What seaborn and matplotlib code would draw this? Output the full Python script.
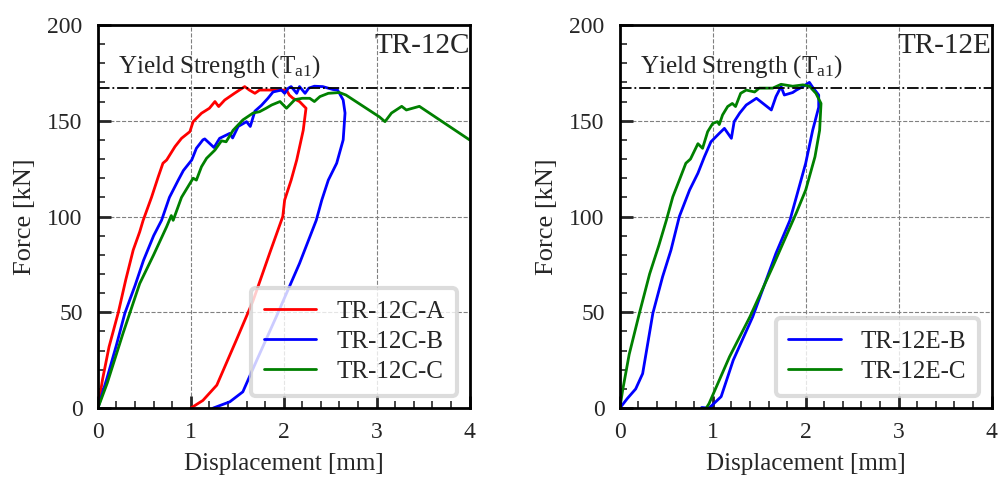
import numpy as np
import pandas as pd
import matplotlib
matplotlib.use('Agg')
import matplotlib.pyplot as plt
import seaborn as sns
from matplotlib.ticker import MultipleLocator

# ---- data ----
a_x = [0, 0.05, 0.12, 0.22, 0.30, 0.38, 0.45, 0.487, 0.577, 0.65, 0.70, 0.74, 0.83, 0.90, 0.99,
       1.025, 1.115, 1.20, 1.26, 1.29, 1.30, 1.365, 1.47, 1.58, 1.63, 1.69, 1.74, 1.885, 2.03, 2.06,
       2.10, 2.17, 2.24, 2.21, 2.14, 2.08, 2.01, 1.99, 1.85, 1.67, 1.49, 1.28, 1.13, 1.0]
a_y = [0, 15, 32, 50, 67, 82.5, 92, 98, 110, 120.8, 127.8, 129.5, 136.5, 140.8, 144.3,
       149.5, 153.9, 156.5, 160, 158, 157.4, 160.8, 164.3, 167.8, 166, 164.3, 166, 166, 166, 163.4,
       161.7, 160, 156.5, 145, 129.5, 119, 108.6, 100, 81, 56, 35.5, 12, 4, 0]

b_x = [0, 0.1, 0.2, 0.29, 0.4, 0.49, 0.6, 0.685, 0.77, 0.865, 0.92, 1.01, 1.06, 1.13, 1.15, 1.25,
       1.31, 1.42, 1.45, 1.51, 1.60, 1.64, 1.69, 1.76, 1.83, 1.885, 1.975, 2.01, 2.05, 2.08, 2.14,
       2.17, 2.23, 2.27, 2.33, 2.42, 2.53, 2.58, 2.64, 2.66, 2.64, 2.57, 2.48, 2.41, 2.35, 2.17,
       1.92, 1.71, 1.56, 1.42, 1.24]
b_y = [0, 16, 33, 49.5, 64, 77, 90, 98, 110, 119, 124, 129.5, 135.6, 140, 140.5, 136,
       140.8, 143.4, 141, 147, 149.5, 147, 155, 158, 161.7, 165, 166, 164.3, 167, 167.8, 164.3,
       167.8, 164.3, 167, 168, 167.8, 166.3, 166, 160.8, 154, 140, 127.8, 119, 108.6, 98, 75.5,
       47.7, 25, 8.5, 3.3, 0]

c_x = [0, 0.1, 0.27, 0.45, 0.6, 0.74, 0.79, 0.81, 0.90, 0.97, 1.025, 1.06, 1.115, 1.17, 1.26,
       1.33, 1.38, 1.455, 1.56, 1.67, 1.74, 1.81, 1.87, 1.96, 2.03, 2.12, 2.20, 2.28, 2.33, 2.39,
       2.48, 2.60, 2.67, 3.03, 3.09, 3.16, 3.27, 3.32, 3.46, 4.0]
c_y = [0, 13, 39, 65, 80, 94.7, 100.5, 98, 110, 115.6, 120, 119, 126, 130.4, 134.7,
       139.5, 139, 145, 150.4, 154, 154.7, 156.5, 158.2, 160, 156.5, 161, 161.7, 161.7, 160, 162.6,
       164.3, 164.7, 163.4, 152, 149.5, 154, 157.5, 155.6, 157.5, 140]

eb_x = [0, 0.08, 0.17, 0.245, 0.355, 0.46, 0.55, 0.64, 0.75, 0.84, 0.91, 0.98, 1.07, 1.125, 1.20,
        1.23, 1.29, 1.36, 1.47, 1.63, 1.68, 1.735, 1.77, 1.86, 1.90, 1.97, 2.04, 2.07, 2.14, 2.14,
        2.075, 2.0, 1.91, 1.83, 1.68, 1.43, 1.22, 1.09, 0.96, 0.88]
eb_y = [0, 5, 10, 18, 49.5, 68.6, 82.5, 100, 113.8, 122.6, 131.2, 139, 143.4, 146, 140.8,
        149.5, 154, 158.2, 161.7, 155.6, 162.6, 167.8, 163.4, 164.7, 166, 167.8, 170, 167.8, 163.4, 157,
        145, 127.8, 112, 98, 80.8, 47.7, 25, 6, 0, 0.3]

ec_x = [0, 0.03, 0.1, 0.21, 0.32, 0.42, 0.50, 0.57, 0.64, 0.71, 0.76, 0.84, 0.89, 0.945, 1.0,
        1.05, 1.07, 1.105, 1.16, 1.21, 1.245, 1.30, 1.36, 1.45, 1.50, 1.645, 1.735, 1.86, 1.97, 2.04,
        2.11, 2.165, 2.15, 2.10, 2.0, 1.90, 1.645, 1.40, 1.18, 0.96, 0.93]
ec_y = [0, 9.4, 28, 49.5, 70, 85, 98, 110.3, 119, 127.8, 130, 138, 135.6, 144.3, 148.6,
        149.5, 148, 153, 157.4, 159, 157.4, 164.3, 166, 165, 167, 167, 169, 168, 168.7, 168,
        164.3, 159, 145, 131.2, 113.8, 102, 73.8, 47.7, 26.8, 2.4, 0]

yield_strength = 167


def make_df(curves):
    rows = []
    for name, xs, ys in curves:
        for i, (x, y) in enumerate(zip(xs, ys)):
            rows.append({'name': name, 'step': i, 'disp': x, 'force': y})
    return pd.DataFrame(rows)


df_c = make_df([('TR-12C-A', a_x, a_y), ('TR-12C-B', b_x, b_y), ('TR-12C-C', c_x, c_y)])
df_e = make_df([('TR-12E-B', eb_x, eb_y), ('TR-12E-C', ec_x, ec_y)])

sns.set_style('white')
plt.rcParams['font.family'] = ['Liberation Serif', 'DejaVu Serif']
plt.rcParams['mathtext.fontset'] = 'custom'
plt.rcParams['mathtext.rm'] = 'Liberation Serif'

fig = plt.figure(figsize=(9.99, 4.79), dpi=100)
ax1 = fig.add_axes([0.098, 0.148, 0.372, 0.800])
ax2 = fig.add_axes([0.6205, 0.148, 0.372, 0.800])

pal_c = {'TR-12C-A': 'red', 'TR-12C-B': 'blue', 'TR-12C-C': 'green'}
pal_e = {'TR-12E-B': 'blue', 'TR-12E-C': 'green'}

sns.lineplot(data=df_c, x='disp', y='force', hue='name', palette=pal_c, sort=False,
             estimator=None, units='name', linewidth=2, ax=ax1)
sns.lineplot(data=df_e, x='disp', y='force', hue='name', palette=pal_e, sort=False,
             estimator=None, units='name', linewidth=2, ax=ax2)

for ax, tag in [(ax1, 'TR-12C'), (ax2, 'TR-12E')]:
    ax.set_xlim(0, 4)
    ax.set_ylim(0, 200)
    ax.axhline(yield_strength, color='black', ls='-.', lw=1.3)
    ax.text(0.22, 178, r'Yield Strength ($\mathrm{T_{a1}}$)', fontsize=18, va='center')
    ax.text(4.0, 189, tag, fontsize=21, ha='right', va='center', clip_on=True)
    ax.xaxis.set_major_locator(MultipleLocator(1))
    ax.xaxis.set_minor_locator(MultipleLocator(0.2))
    ax.yaxis.set_major_locator(MultipleLocator(50))
    ax.yaxis.set_minor_locator(MultipleLocator(10))
    ax.tick_params(which='major', direction='in', length=9, width=2, labelsize=17,
                   bottom=True, left=True, top=False, right=False)
    ax.tick_params(which='minor', direction='in', length=5, width=1.2,
                   bottom=True, left=True, top=False, right=False)
    ax.tick_params(axis='x', which='major', pad=10)
    ax.tick_params(axis='y', which='major', pad=11)
    ax.grid(True, which='major', ls='--', color='gray', lw=0.8)
    for s in ax.spines.values():
        s.set_linewidth(2)
        s.set_color('black')
    ax.set_xlabel('Displacement [mm]', fontsize=18, labelpad=7)
    ax.set_ylabel('Force [kN]', fontsize=19, labelpad=8)
    leg = ax.legend(loc='lower right', fontsize=18, frameon=True, fancybox=True,
                    shadow=False, handlelength=2.1, borderpad=0.5, labelspacing=0.3,
                    handletextpad=0.8, borderaxespad=0.5)
    leg.get_frame().set_edgecolor('#d4d4d4')
    leg.get_frame().set_linewidth(3)
    leg.set_title(None)
    for line in leg.get_lines():
        line.set_linewidth(2)

fig.savefig('out.png', dpi=100)
